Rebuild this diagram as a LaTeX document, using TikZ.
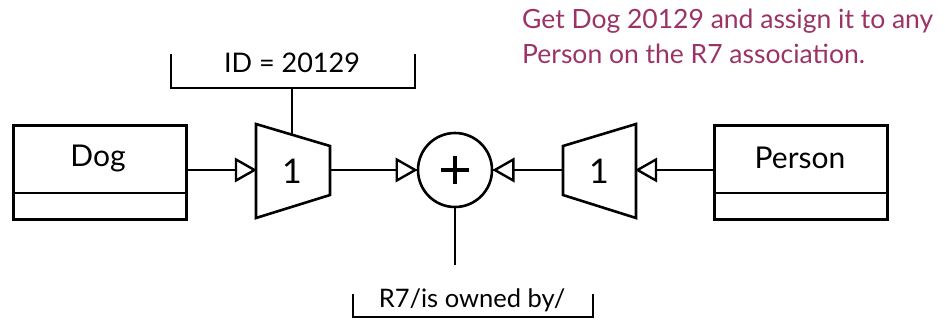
\documentclass[tikz,border=0pt]{standalone}
\usepackage{fontspec}
\setmainfont{Lato}
\usetikzlibrary{arrows.meta}
\definecolor{note}{HTML}{9B3366}
\tikzset{
  ln/.style={line width=2.6pt},
  openhead/.pic={\draw[line width=2.4pt, fill=white, line join=miter]
      (-1.5,0) -- (-20,-10.5) -- (-20,10.5) -- cycle;},
  classbox/.style={draw, ln, minimum width=173pt, minimum height=94pt, inner sep=0pt, anchor=north west},
  big/.style={font=\fontsize{30}{32}\selectfont},
  digit/.style={font=\fontsize{34}{36}\selectfont},
  lbl/.style={font=\fontsize{27}{29}\selectfont, inner sep=0pt},
  notetxt/.style={text=note, font=\fontsize{26.5}{30}\selectfont, anchor=base west, inner sep=0pt},
}
\begin{document}
\begin{tikzpicture}[x=1pt,y=-1pt]
\useasboundingbox (0,0) rectangle (945,322);
% classes
\node[classbox] (dog) at (12,124) {};
\draw[ln] (12,193) -- (185,193);
\node[big] (dogtxt) at (98,158) {Dog};
\node[classbox] (person) at (713,124) {};
\draw[ln] (713,193) -- (886,193);
\node[big] (persontxt) at (800,158) {Person};
% left projector
\coordinate (t1nw) at (256,124);
\coordinate (t1ne) at (330,146);
\coordinate (t1se) at (330,195);
\coordinate (t1sw) at (256,218);
\draw[ln, line join=miter] (t1nw) -- (t1ne) -- (t1se) -- (t1sw) -- cycle;
\node[digit] (t1) at (292,171) {1};
\coordinate (t1in) at (256,170);
\coordinate (t1out) at (330,170);
\coordinate (t1top) at (292,135);
% right projector
\coordinate (t2nw) at (563,146);
\coordinate (t2ne) at (636,124);
\coordinate (t2se) at (636,218);
\coordinate (t2sw) at (563,195);
\draw[ln, line join=miter] (t2nw) -- (t2ne) -- (t2se) -- (t2sw) -- cycle;
\node[digit] (t2) at (599,171) {1};
\coordinate (t2in) at (636,170);
\coordinate (t2out) at (563,170);
% join circle
\node[draw, ln, circle, minimum size=74pt, inner sep=0pt] (plus) at (455,170) {};
\draw[line width=3.4pt] (441,170) -- (469,170) (455,156) -- (455,184);
% ID bracket
\node[lbl] (idtxt) at (292,63) {ID = 20129};
\coordinate (idl) at (171,54);
\coordinate (idr) at (415,54);
\coordinate (idbar) at (292,88);
\draw[ln] (idl) |- (idr |- idbar) -- (idr);
\draw[ln] (idbar) -- (t1top);
% R7 bracket
\node[lbl, font=\fontsize{25.5}{27}\selectfont] (r7txt) at (472,300) {R7/is owned by/};
\coordinate (r7l) at (353,294);
\coordinate (r7r) at (593,294);
\coordinate (r7bot) at (0,317);
\draw[ln] (r7l) |- (r7r |- r7bot) -- (r7r);
\coordinate (plusend) at (455,265);
\draw[ln] (plus.south) -- (plusend);
% flows
\draw[ln] (dog.east |- t1in) -- (t1in);
\pic at (t1in) {openhead};
\draw[ln] (t1out) -- (plus.west);
\pic at (plus.west) {openhead};
\draw[ln] (person.west |- t2in) -- (t2in);
\pic[rotate=180] at (t2in) {openhead};
\draw[ln] (t2out) -- (plus.east);
\pic[rotate=180] at (plus.east) {openhead};
% note
\node[notetxt] (note1) at (522,28) {Get Dog 20129 and assign it to any};
\node[notetxt] (note2) at (522,63) {Person on the R7 association.};
\end{tikzpicture}
\end{document}
